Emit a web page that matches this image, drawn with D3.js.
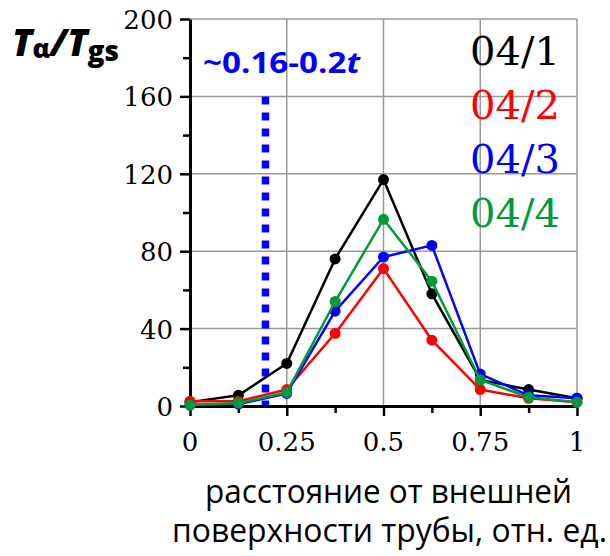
<!DOCTYPE html>
<html>
<head>
<meta charset="utf-8">
<script src="https://cdn.jsdelivr.net/npm/d3@7"></script>
<style>
  html, body { margin: 0; padding: 0; background: #fff; }
  svg { display: block; }
</style>
</head>
<body>
<div id="chart"></div>
<script>
// Relative position across the wall (0 = outer surface, 1 = inner)
const positions = [0, 0.125, 0.25, 0.375, 0.5, 0.625, 0.75, 0.875, 1];

// Tα/Tgs ratio for each specimen
const s04_1 = [2, 5.5, 22, 76, 117, 58, 13.5, 8.5, 4];
const s04_2 = [2.5, 2.5, 8.5, 37.5, 71, 34, 8.5, 4, 2];
const s04_3 = [0.5, 1, 6.5, 49, 77, 83, 16.5, 5.5, 4];
const s04_4 = [0.5, 1.5, 7, 54, 96.5, 64.5, 13.5, 4.5, 2];

const seriesNames = ["04/1", "04/2", "04/3", "04/4"];
const seriesColors = ["#000000", "#ff0000", "#0000ff", "#009a3d"];

const yTicks = [0, 40, 80, 120, 160, 200];
const xTicks = [0, 0.25, 0.5, 0.75, 1];
const xTickLabels = ["0", "0.25", "0.5", "0.75", "1"];

const markerPos = 0.195;          // dotted marker position
const markerLabel = "~0.16-0.2";
const xTitle = ["расстояние от внешней", "поверхности трубы, отн. ед."];

const W = 610, H = 556;
const svg = d3.select("#chart").append("svg").attr("width", W).attr("height", H);

const x = d3.scaleLinear().domain([0, 1]).range([190, 577]);
const y = d3.scaleLinear().domain([0, 200]).range([406, 19]);

const serif = "'DejaVu Serif', serif";
const sans = "'Open Sans', 'Noto Sans', sans-serif";

// grid
const grid = svg.append("g").attr("stroke", "#999").attr("stroke-width", 1.5);
grid.selectAll("line.h").data(yTicks.slice(1)).join("line")
  .attr("x1", x(0)).attr("x2", x(1)).attr("y1", d => y(d)).attr("y2", d => y(d));
grid.selectAll("line.v").data(xTicks.slice(1)).join("line")
  .attr("y1", y(0)).attr("y2", y(200)).attr("x1", d => x(d)).attr("x2", d => x(d));

// dotted marker
svg.append("line")
  .attr("x1", x(markerPos)).attr("x2", x(markerPos))
  .attr("y1", y(160)).attr("y2", y(0))
  .attr("stroke", "#0000ff").attr("stroke-width", 7.5)
  .attr("stroke-dasharray", "8,8");

const mt = svg.append("text")
  .attr("x", 203).attr("y", 73)
  .attr("font-family", sans).attr("font-weight", "bold")
  .attr("font-size", 28).attr("fill", "#0000ff")
  .attr("textLength", 157).attr("lengthAdjust", "spacingAndGlyphs");
mt.append("tspan").text(markerLabel);
mt.append("tspan").attr("font-style", "italic").text("t");

// axes
const yAxis = svg.append("g").attr("transform", `translate(${x(0)},0)`)
  .call(d3.axisLeft(y).tickValues(d3.range(0, 201, 20)).tickSize(0).tickFormat(""));
yAxis.select(".domain").attr("stroke", "#000").attr("stroke-width", 3);
yAxis.selectAll(".tick line").attr("stroke", "#000").attr("stroke-width", 2.5)
  .attr("x2", d => d % 40 === 0 ? -10 : -7);

const xAxis = svg.append("g").attr("transform", `translate(0,${y(0)})`)
  .call(d3.axisBottom(x).tickValues(d3.range(0, 1.0001, 0.125)).tickSize(0).tickFormat(""));
xAxis.select(".domain").attr("stroke", "#000").attr("stroke-width", 3);
xAxis.selectAll(".tick line").attr("stroke", "#000").attr("stroke-width", 2.5)
  .attr("y2", (d, i) => i % 2 === 0 ? 10 : 7);

svg.append("g").selectAll("text").data(yTicks).join("text")
  .attr("x", 173).attr("y", d => y(d) + 10)
  .attr("text-anchor", "end")
  .attr("font-family", serif).attr("font-size", 26)
  .text(d => d);

svg.append("g").selectAll("text").data(xTicks).join("text")
  .attr("x", d => x(d)).attr("y", 451)
  .attr("text-anchor", "middle")
  .attr("font-family", serif).attr("font-size", 26)
  .text((d, i) => xTickLabels[i]);

// series
const allSeries = [s04_1, s04_2, s04_3, s04_4];
const line = d3.line().x((d, i) => x(positions[i])).y(d => y(d));
allSeries.forEach((vals, k) => {
  const g = svg.append("g");
  g.append("path").datum(vals).attr("d", line)
    .attr("fill", "none").attr("stroke", seriesColors[k]).attr("stroke-width", 2.5)
    .attr("stroke-linejoin", "round");
  g.selectAll("circle").data(vals).join("circle")
    .attr("cx", (d, i) => x(positions[i])).attr("cy", d => y(d))
    .attr("r", 5.5).attr("fill", seriesColors[k]);
});

// legend
svg.append("g").selectAll("text").data(seriesNames).join("text")
  .attr("x", 470).attr("y", (d, i) => 65 + i * 54)
  .attr("font-family", serif).attr("font-size", 40)
  .attr("fill", (d, i) => seriesColors[i])
  .text(d => d);

// y title: Tα/Tgs, one text run with subscripts
const yt = svg.append("text")
  .attr("x", 12).attr("y", 56)
  .attr("font-family", sans).attr("font-weight", 800).attr("fill", "#000")
  .attr("font-size", 37);
yt.append("tspan").attr("font-style", "italic").text("T");
yt.append("tspan").attr("font-size", 26).attr("dy", 2).text("α");
yt.append("tspan").attr("font-style", "italic").attr("dy", -2).text("/");
yt.append("tspan").attr("font-style", "italic").text("T");
yt.append("tspan").attr("font-size", 28).attr("dy", 5).text("gs");
</script>
<script>
// x-axis title (two centred lines)
d3.select("svg").append("g").selectAll("text").data(xTitle).join("text")
  .attr("x", (d, i) => i === 0 ? 388.5 : 389.5)
  .attr("y", (d, i) => i === 0 ? 503 : 542)
  .attr("text-anchor", "middle")
  .attr("font-family", "'Open Sans', 'Noto Sans', sans-serif").attr("font-size", 32)
  .attr("textLength", (d, i) => i === 0 ? 367 : 435)
  .attr("lengthAdjust", "spacingAndGlyphs")
  .text(d => d);
</script>
</body>
</html>
